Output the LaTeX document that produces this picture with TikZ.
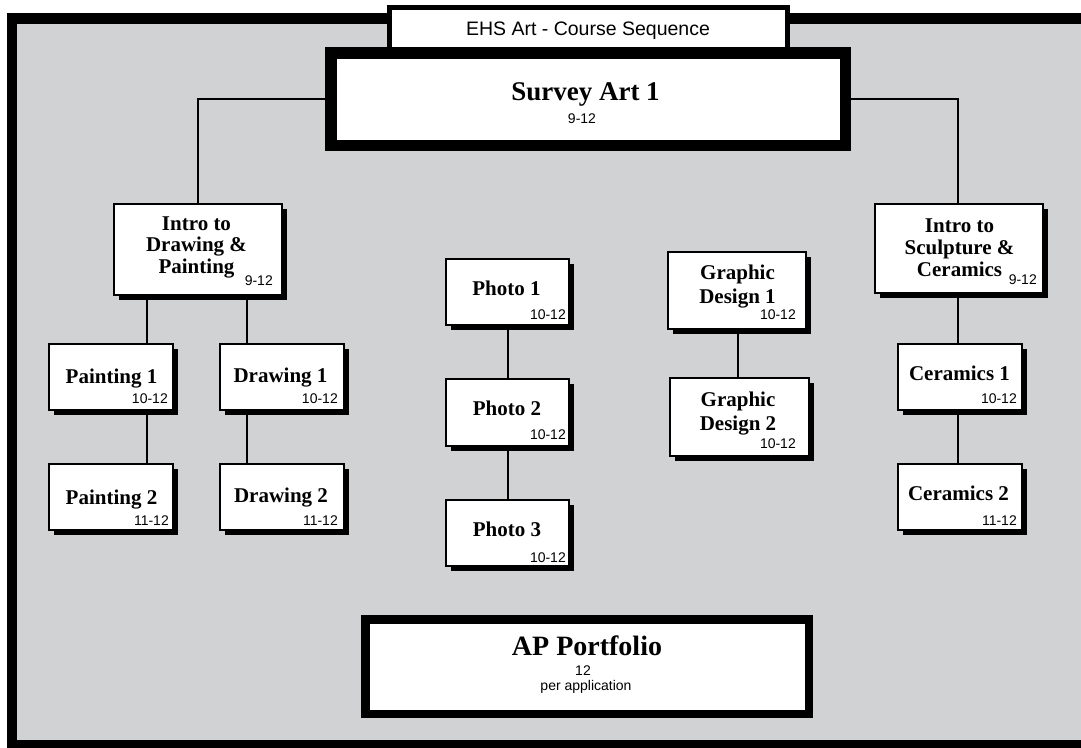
\documentclass[tikz,border=0pt]{standalone}
\usepackage{fontspec}
\setmainfont{Liberation Serif}
\newfontfamily\sansfam{Liberation Sans}
\usetikzlibrary{shadows}
\definecolor{bggray}{RGB}{209,210,212}
\newcommand{\mlines}[1]{\begin{tabular}[t]{@{}c@{}}#1\end{tabular}}
\pgfdeclarelayer{bottom}
\pgfdeclarelayer{background}
\pgfsetlayers{bottom,background,main}
\begin{document}
\begin{tikzpicture}[x=1pt,y=-1pt,
  box/.style={draw=black, line width=2pt, fill=white, inner sep=0pt,
    drop shadow={shadow xshift=5pt, shadow yshift=-5pt, fill=black, opacity=1}},
  bigbox/.style={draw=black, fill=white, inner sep=0pt},
  conn/.style={draw=black, line width=2pt},
  ttl/.style={font=\bfseries\fontsize{21}{22}\selectfont, inner sep=0pt, anchor=base},
  grade/.style={font=\sansfam\fontsize{14}{15}\selectfont, inner sep=0pt, anchor=base east},
  sub/.style={font=\sansfam\fontsize{14}{15}\selectfont, inner sep=0pt, anchor=base}]
\useasboundingbox (0,0) rectangle (1081,747);
\clip (0,0) rectangle (1081,747);
\begin{pgfonlayer}{bottom}
  \fill[black] (7,13) rectangle (1100,760);
  \fill[bggray] (17,24) rectangle (1100,740);
\end{pgfonlayer}

% header and top course
\node[bigbox, line width=5pt, minimum width=398pt, minimum height=42pt] (hdr) at (588.5,28.5) {};
\node[font=\sansfam\fontsize{19.5}{20}\selectfont, inner sep=0pt, anchor=base] (hdrt) at (588,35.7) {EHS Art - Course Sequence};
\node[bigbox, line width=11.5pt, minimum width=514.5pt, minimum height=92.5pt] (sv) at (588,99) {};
\node[font=\bfseries\fontsize{27}{28}\selectfont, inner sep=0pt, anchor=base] (svt) at (585.5,100) {Survey Art 1};
\node[sub] (svg) at (582,123) {9-12};

% second level
\node[box, minimum width=168pt, minimum height=91pt] (idp) at (198,249.5) {};
\node[box, minimum width=168pt, minimum height=89pt] (isc) at (959,248.5) {};
\node[box, minimum width=123pt, minimum height=66pt] (ph1) at (507.5,292) {};
\node[box, minimum width=123pt, minimum height=67pt] (ph2) at (507.5,412.5) {};
\node[box, minimum width=123pt, minimum height=66pt] (ph3) at (507.5,533) {};
\node[box, minimum width=138pt, minimum height=77pt] (gd1) at (737,290.5) {};
\node[box, minimum width=139pt, minimum height=78pt] (gd2) at (739.5,417) {};
\node[box, minimum width=124pt, minimum height=66pt] (p1) at (111,377) {};
\node[box, minimum width=124pt, minimum height=66pt] (p2) at (111,497) {};
\node[box, minimum width=124pt, minimum height=66pt] (d1) at (282,377) {};
\node[box, minimum width=124pt, minimum height=66pt] (d2) at (282,497) {};
\node[box, minimum width=124pt, minimum height=66pt] (c1) at (960,377) {};
\node[box, minimum width=124pt, minimum height=66pt] (c2) at (960,497) {};

% AP portfolio
\node[bigbox, line width=8.5pt, minimum width=443.5pt, minimum height=94.5pt] (ap) at (587,666.5) {};
\node[font=\bfseries\fontsize{28}{29}\selectfont, inner sep=0pt, anchor=base] (apt) at (587,655) {AP Portfolio};
\node[sub] (apg) at (583,675) {12};
\node[sub] (apn) at (586,690) {per application};

% connectors
\coordinate (xPL) at (147,0);
\coordinate (xDR) at (247,0);
\coordinate (xGD) at (738,0);
\coordinate (xCE) at (958,0);
\begin{pgfonlayer}{background}
  \draw[conn] (sv.west) -| (idp.north);
  \draw[conn] (sv.east) -| (isc.north -| xCE);
  \draw[conn] (idp.south -| xPL) -- (p1.north -| xPL);
  \draw[conn] (p1.south -| xPL) -- (p2.north -| xPL);
  \draw[conn] (idp.south -| xDR) -- (d1.north -| xDR);
  \draw[conn] (d1.south -| xDR) -- (d2.north -| xDR);
  \draw[conn] (ph1.south) -- (ph2.north);
  \draw[conn] (ph2.south) -- (ph3.north);
  \draw[conn] (gd1.south -| xGD) -- (gd2.north -| xGD);
  \draw[conn] (isc.south -| xCE) -- (c1.north -| xCE);
  \draw[conn] (c1.south -| xCE) -- (c2.north -| xCE);
\end{pgfonlayer}

% texts
\node[ttl] (idpt) at (196.5,230) {\fontsize{21}{21.5}\selectfont\mlines{Intro to\\Drawing \&\\Painting}};
\node[grade] (idpg) at (273,285) {9-12};
\node[ttl] (isct) at (959.5,232.7) {\fontsize{21}{21.7}\selectfont\mlines{Intro to\\Sculpture \&\\Ceramics}};
\node[grade] (iscg) at (1037,284) {9-12};
\node[ttl] (gd1t) at (737.5,279) {\fontsize{21}{24}\selectfont\mlines{Graphic\\Design 1}};
\node[grade] (gd1g) at (796,319) {10-12};
\node[ttl] (gd2t) at (738,406.7) {\fontsize{21}{23.3}\selectfont\mlines{Graphic\\Design 2}};
\node[grade] (gd2g) at (796,448) {10-12};
\node[ttl] (p1t) at (111.5,383) {Painting 1};
\node[grade] (p1g) at (168,403) {10-12};
\node[ttl] (p2t) at (111.5,504.5) {Painting 2};
\node[grade] (p2g) at (169,525) {11-12};
\node[ttl] (d1t) at (280.5,382.3) {Drawing 1};
\node[grade] (d1g) at (338,403) {10-12};
\node[ttl] (d2t) at (281,502.7) {Drawing 2};
\node[grade] (d2g) at (338,525) {11-12};
\node[ttl] (ph1t) at (506.5,295.7) {Photo 1};
\node[grade] (ph1g) at (566,319) {10-12};
\node[ttl] (ph2t) at (507,415) {Photo 2};
\node[grade] (ph2g) at (566,439) {10-12};
\node[ttl] (ph3t) at (507,536.7) {Photo 3};
\node[grade] (ph3g) at (566,562) {10-12};
\node[ttl] (c1t) at (959.5,380.7) {Ceramics 1};
\node[grade] (c1g) at (1017,403) {10-12};
\node[ttl] (c2t) at (958.5,500) {Ceramics 2};
\node[grade] (c2g) at (1017,525) {11-12};
\end{tikzpicture}
\end{document}
